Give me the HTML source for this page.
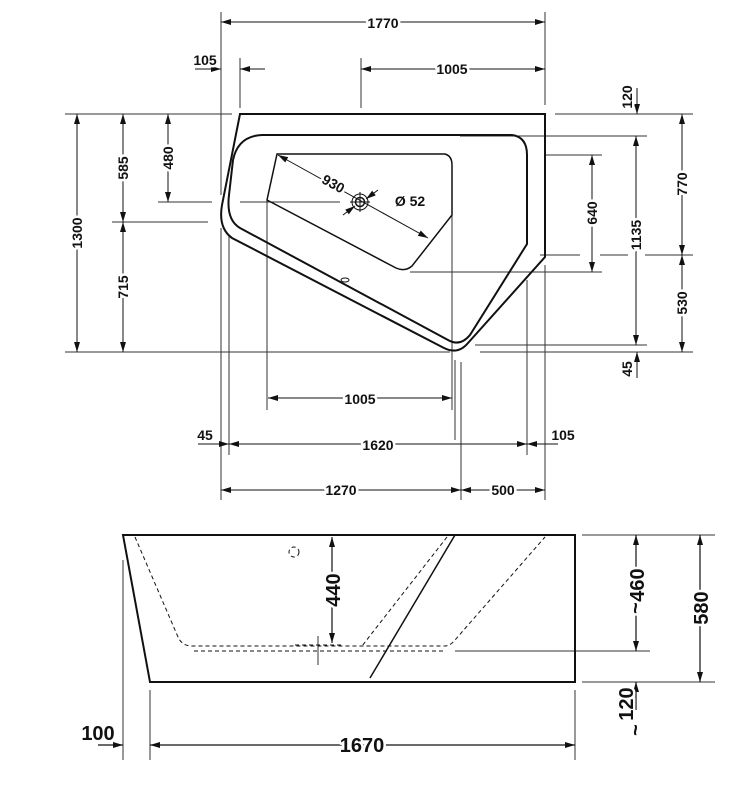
<!DOCTYPE html>
<html><head><meta charset="utf-8"><style>
html,body{margin:0;padding:0;background:#fff}
svg{display:block}
text{font-family:"Liberation Sans Narrow","Liberation Sans",sans-serif;font-weight:bold;fill:#111;paint-order:stroke;stroke:#fff;stroke-width:5px;stroke-linejoin:round}
</style></head><body>
<svg width="747" height="793" viewBox="0 0 747 793" xmlns="http://www.w3.org/2000/svg">
<defs>
<marker id="a" viewBox="0 0 10 6" refX="10" refY="3" markerWidth="10" markerHeight="6" orient="auto-start-reverse" markerUnits="userSpaceOnUse"><path d="M0,0 L10,3 L0,6 z" fill="#111"/></marker>
</defs>
<g stroke="#333" stroke-width="1" fill="none">
<line x1="221" y1="12" x2="221" y2="195"/><line x1="221" y1="228" x2="221" y2="500"/>
<line x1="545" y1="12" x2="545" y2="105"/><line x1="545" y1="265" x2="545" y2="500"/>
<line x1="240" y1="58" x2="240" y2="108"/><line x1="361" y1="58" x2="361" y2="108"/>
<line x1="229" y1="235" x2="229" y2="455"/><line x1="527" y1="280" x2="527" y2="455"/>
<line x1="267" y1="200" x2="267" y2="410"/><line x1="452" y1="215" x2="452" y2="410"/>
<line x1="461" y1="362" x2="461" y2="500"/><line x1="455" y1="360" x2="455" y2="440"/>
<line x1="65" y1="114" x2="232" y2="114"/><line x1="65" y1="352" x2="450" y2="352"/>
<line x1="158" y1="202" x2="212" y2="202"/><line x1="240" y1="202" x2="340" y2="202"/>
<line x1="112" y1="222" x2="208" y2="222"/>
<line x1="555" y1="114" x2="693" y2="114"/>
<line x1="460" y1="136" x2="647" y2="136"/>
<line x1="545" y1="155" x2="602" y2="155"/>
<line x1="410" y1="272" x2="602" y2="272"/>
<line x1="540" y1="255" x2="580" y2="255"/><line x1="600" y1="255" x2="628" y2="255"/><line x1="645" y1="255" x2="693" y2="255"/>
<line x1="475" y1="345" x2="647" y2="345"/>
<line x1="480" y1="352" x2="693" y2="352"/>
</g>
<g stroke="#111" stroke-width="1" fill="none" marker-start="url(#a)" marker-end="url(#a)">
<line x1="221" y1="22" x2="545" y2="22"/>
<line x1="361" y1="69" x2="545" y2="69"/>
<line x1="77" y1="114" x2="77" y2="352"/>
<line x1="123" y1="114" x2="123" y2="222"/>
<line x1="123" y1="222" x2="123" y2="352"/>
<line x1="168" y1="114" x2="168" y2="202"/>
<line x1="682" y1="114" x2="682" y2="255"/>
<line x1="682" y1="255" x2="682" y2="352"/>
<line x1="636" y1="136" x2="636" y2="345"/>
<line x1="592" y1="155" x2="592" y2="272"/>
<line x1="268" y1="398" x2="452" y2="398"/>
<line x1="229" y1="444" x2="527" y2="444"/>
<line x1="221" y1="490" x2="461" y2="490"/>
<line x1="461" y1="490" x2="545" y2="490"/>
<line x1="278" y1="155" x2="428" y2="238"/>
</g>
<g stroke="#111" stroke-width="1" fill="none" marker-end="url(#a)">
<line x1="195" y1="69" x2="221" y2="69"/>
<line x1="265" y1="69" x2="240" y2="69"/>
<line x1="637" y1="88" x2="637" y2="114"/>
<line x1="637" y1="378" x2="637" y2="352"/>
<line x1="198" y1="444" x2="229" y2="444"/>
<line x1="558" y1="444" x2="527" y2="444"/>
<line x1="343" y1="215" x2="355" y2="206"/>
<line x1="378" y1="190" x2="366" y2="199"/>
</g>
<g stroke="#111" stroke-width="2" fill="none">
<path d="M240,114 L545,114 L545,257 L468,343 Q458,355 444,348 L232,238 Q218,228 222,205 Z"/>
<path d="M262,135 L512,135 Q527,137 527,155 L527,244 L470,335 Q460,347 448,340 L240,228 Q226,220 229,195 L233,160 Q238,136 262,135 Z"/>
<path d="M277,154 L445,154 Q452,156 452,165 L452,215 L412,266 Q405,272 396,268 L267,200 Z" stroke-width="1.5"/>
<circle cx="360" cy="202" r="8" stroke-width="1"/><circle cx="360" cy="202" r="4.5" stroke-width="1.5"/>
<ellipse cx="345" cy="280" rx="4" ry="2" stroke-width="1"/>
</g>
<line x1="350" y1="202" x2="370" y2="202" stroke="#111"/><line x1="360" y1="192" x2="360" y2="212" stroke="#111"/>
<g font-size="14">
<text x="383" y="28" text-anchor="middle">1770</text>
<text x="205" y="65" text-anchor="middle">105</text>
<text x="452" y="74" text-anchor="middle">1005</text>
<text x="360" y="404" text-anchor="middle">1005</text>
<text x="378" y="450" text-anchor="middle">1620</text>
<text x="205" y="440" text-anchor="middle">45</text>
<text x="563" y="440" text-anchor="middle">105</text>
<text x="341" y="495" text-anchor="middle">1270</text>
<text x="503" y="495" text-anchor="middle">500</text>
<text x="410" y="206" text-anchor="middle">Ø 52</text>
<text transform="translate(331,188) rotate(29)" text-anchor="middle">930</text>
<text transform="translate(82,233) rotate(-90)" text-anchor="middle">1300</text>
<text transform="translate(128,168) rotate(-90)" text-anchor="middle">585</text>
<text transform="translate(128,287) rotate(-90)" text-anchor="middle">715</text>
<text transform="translate(173,158) rotate(-90)" text-anchor="middle">480</text>
<text transform="translate(687,184) rotate(-90)" text-anchor="middle">770</text>
<text transform="translate(687,303) rotate(-90)" text-anchor="middle">530</text>
<text transform="translate(641,235) rotate(-90)" text-anchor="middle">1135</text>
<text transform="translate(597,213) rotate(-90)" text-anchor="middle">640</text>
<text transform="translate(632,97) rotate(-90)" text-anchor="middle">120</text>
<text transform="translate(632,369) rotate(-90)" text-anchor="middle">45</text>
</g>
<g stroke="#333" stroke-width="1" fill="none">
<line x1="582" y1="535" x2="715" y2="535"/>
<line x1="582" y1="682" x2="715" y2="682"/>
<line x1="455" y1="651" x2="650" y2="651"/>
<line x1="123" y1="560" x2="123" y2="760"/>
<line x1="150" y1="690" x2="150" y2="760"/>
<line x1="575" y1="690" x2="575" y2="760"/>
<line x1="318" y1="636" x2="318" y2="665"/>
</g>
<path d="M123,535 L575,535 L575,682 L150,682 Z" fill="none" stroke="#111" stroke-width="2"/>
<line x1="455" y1="535" x2="370" y2="678" stroke="#111" stroke-width="1.5"/>
<g stroke="#111" stroke-width="1" fill="none" stroke-dasharray="4,3">
<path d="M135,537 L178,637 Q182,646 192,646 L445,646 Q450,646 455,640 L545,537"/>
<path d="M194,651 L445,651"/>
<path d="M447,537 L362,646"/>
<path d="M295,645 L343,645"/>
<circle cx="294" cy="552" r="5"/>
</g>
<g stroke="#111" stroke-width="1.2" fill="none" marker-start="url(#a)" marker-end="url(#a)">
<line x1="332" y1="537" x2="332" y2="643"/>
<line x1="636" y1="535" x2="636" y2="651"/>
<line x1="700" y1="535" x2="700" y2="682"/>
<line x1="150" y1="745" x2="575" y2="745"/>
</g>
<g stroke="#111" stroke-width="1.2" fill="none" marker-end="url(#a)">
<line x1="636" y1="710" x2="636" y2="682"/>
<line x1="98" y1="745" x2="123" y2="745"/>
</g>
<g font-size="20">
<text transform="translate(340,590) rotate(-90)" text-anchor="middle">440</text>
<text transform="translate(644,585) rotate(-90)" text-anchor="middle">460</text>
<text x="636" y="614" text-anchor="middle" transform="rotate(-90 636 608)">~</text>
<text transform="translate(708,608) rotate(-90)" text-anchor="middle">580</text>
<text transform="translate(633,704) rotate(-90)" text-anchor="middle">120</text>
<text x="636" y="736" text-anchor="middle" transform="rotate(-90 636 730)">~</text>
<text x="98" y="740" text-anchor="middle">100</text>
<text x="362" y="752" text-anchor="middle">1670</text>
</g>
</svg>
</body></html>
